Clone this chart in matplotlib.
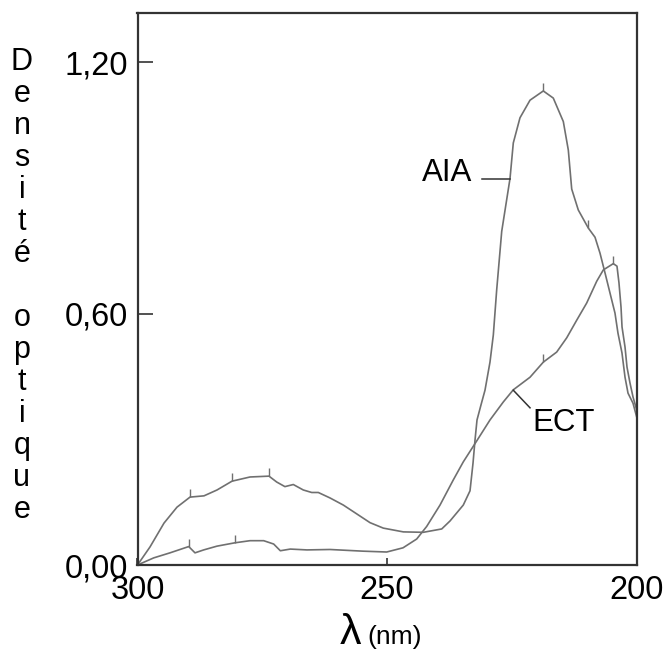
import numpy as np
import matplotlib
matplotlib.use("Agg")
import matplotlib.pyplot as plt

plt.rcParams['font.family'] = ['Liberation Sans', 'DejaVu Sans']

# wavelength (nm) / optical density
aia_nm = [300, 297.50, 294.69, 292.09, 289.48, 286.68, 284.07, 281.07, 277.46, 273.66,
          272.12, 270.47, 268.79, 266.79, 265.10, 263.78, 261.44, 258.77, 256.09, 253.42,
          250.76, 246.75, 242.75, 239.06, 237.40, 234.74, 233.39, 232.79, 232.39, 231.99,
          231.19, 230.39, 229.39, 228.72, 228.05, 227.04, 226.04, 225.38, 224.72, 223.38,
          221.37, 218.71, 216.71, 214.70, 213.70, 213.02, 211.70, 209.70, 208.35, 207.35,
          206.35, 205.35, 204.35, 203.75, 202.95, 202.34, 201.74, 200.74, 200]
aia_od = [0, 0.043, 0.100, 0.138, 0.162, 0.165, 0.179, 0.200, 0.210, 0.212,
          0.198, 0.187, 0.192, 0.179, 0.173, 0.173, 0.160, 0.143, 0.122, 0.101,
          0.088, 0.079, 0.078, 0.086, 0.105, 0.143, 0.177, 0.243, 0.298, 0.346,
          0.382, 0.417, 0.484, 0.549, 0.656, 0.796, 0.872, 0.922, 1.007, 1.067,
          1.109, 1.131, 1.114, 1.058, 0.990, 0.897, 0.847, 0.804, 0.782, 0.744,
          0.697, 0.649, 0.601, 0.553, 0.506, 0.448, 0.410, 0.386, 0.353]

ect_nm = [300, 296.75, 293.49, 289.74, 288.48, 286.74, 284.07, 280.47, 277.46, 274.72,
          272.72, 271.39, 269.39, 266.05, 261.44, 254.83, 250.08, 246.81, 244.07, 242.07,
          239.40, 236.74, 234.74, 232.05, 229.39, 226.72, 224.72, 221.37, 218.71, 216.03,
          214.02, 212.02, 210.02, 208.01, 206.69, 204.69, 203.95, 203.55, 203.14, 202.94,
          202.34, 201.94, 201.34, 200.74, 200]
ect_od = [0, 0.017, 0.029, 0.044, 0.029, 0.036, 0.045, 0.053, 0.058, 0.058,
          0.050, 0.034, 0.038, 0.036, 0.037, 0.033, 0.031, 0.041, 0.062, 0.092,
          0.143, 0.203, 0.246, 0.296, 0.346, 0.389, 0.418, 0.448, 0.484, 0.508,
          0.542, 0.584, 0.625, 0.677, 0.704, 0.719, 0.713, 0.673, 0.615, 0.568,
          0.520, 0.472, 0.434, 0.401, 0.370]

# wavelength markers drawn on the traces
aia_marks = [289.48, 281.07, 273.66, 218.71, 209.70]
ect_marks = [289.74, 280.47, 218.71, 204.69]

y_ticks = [0.0, 0.6, 1.2]
y_ticklabels = ["0,00", "0,60", "1,20"]
x_ticks = [300, 250, 200]
ylabel = "Densité optique"

fig = plt.figure(figsize=(6.65, 6.61), dpi=100)
ax = fig.add_axes([137.5 / 665, 1 - 565 / 661, (636.7 - 137.5) / 665, (565 - 13) / 661])

curve_col = "#707070"
for nm, od, marks in [(aia_nm, aia_od, aia_marks), (ect_nm, ect_od, ect_marks)]:
    ax.plot(nm, od, color=curve_col, lw=1.2)
    my = np.interp(marks, nm[::-1], od[::-1])
    ax.plot(marks, my, ls="none", marker=2, ms=6, mew=1.0, color=curve_col)

ax.set_xlim(300, 200)
ax.set_ylim(0, 1.317)
ax.set_xticks(x_ticks)
ax.set_yticks(y_ticks)
ax.set_yticklabels(y_ticklabels)
ax.tick_params(axis="y", direction="in", length=11, width=1.2, pad=7,
               labelsize=23.5, color="#333333")
ax.tick_params(axis="x", direction="in", length=5, width=1.2, pad=7,
               labelsize=23.5, color="#333333")
for sp in ax.spines.values():
    sp.set_linewidth(1.6)
    sp.set_color("#333333")

# curve labels
ax.text(238.06, 0.936, "AIA", fontsize=22.5, ha="center", va="center")
ax.plot([231.05, 225.38], [0.921, 0.921], color="#333333", lw=1.1)
ax.text(214.56, 0.339, "ECT", fontsize=22.5, ha="center", va="center")
ax.plot([224.72, 221.37], [0.417, 0.375], color="#333333", lw=1.1)

# x label
fig.text(350 / 665, 1 - 633 / 661, "λ", fontsize=31, ha="center", va="center")
fig.text(367 / 665, 1 - 637 / 661, "(nm)", fontsize=19, ha="left", va="center")

# stacked vertical y label
py = 62
for ch in ylabel:
    if ch != " ":
        fig.text(22 / 665, 1 - py / 661, ch, fontsize=22, ha="center", va="center")
    py += 32

fig.savefig("out.png", dpi=100)
